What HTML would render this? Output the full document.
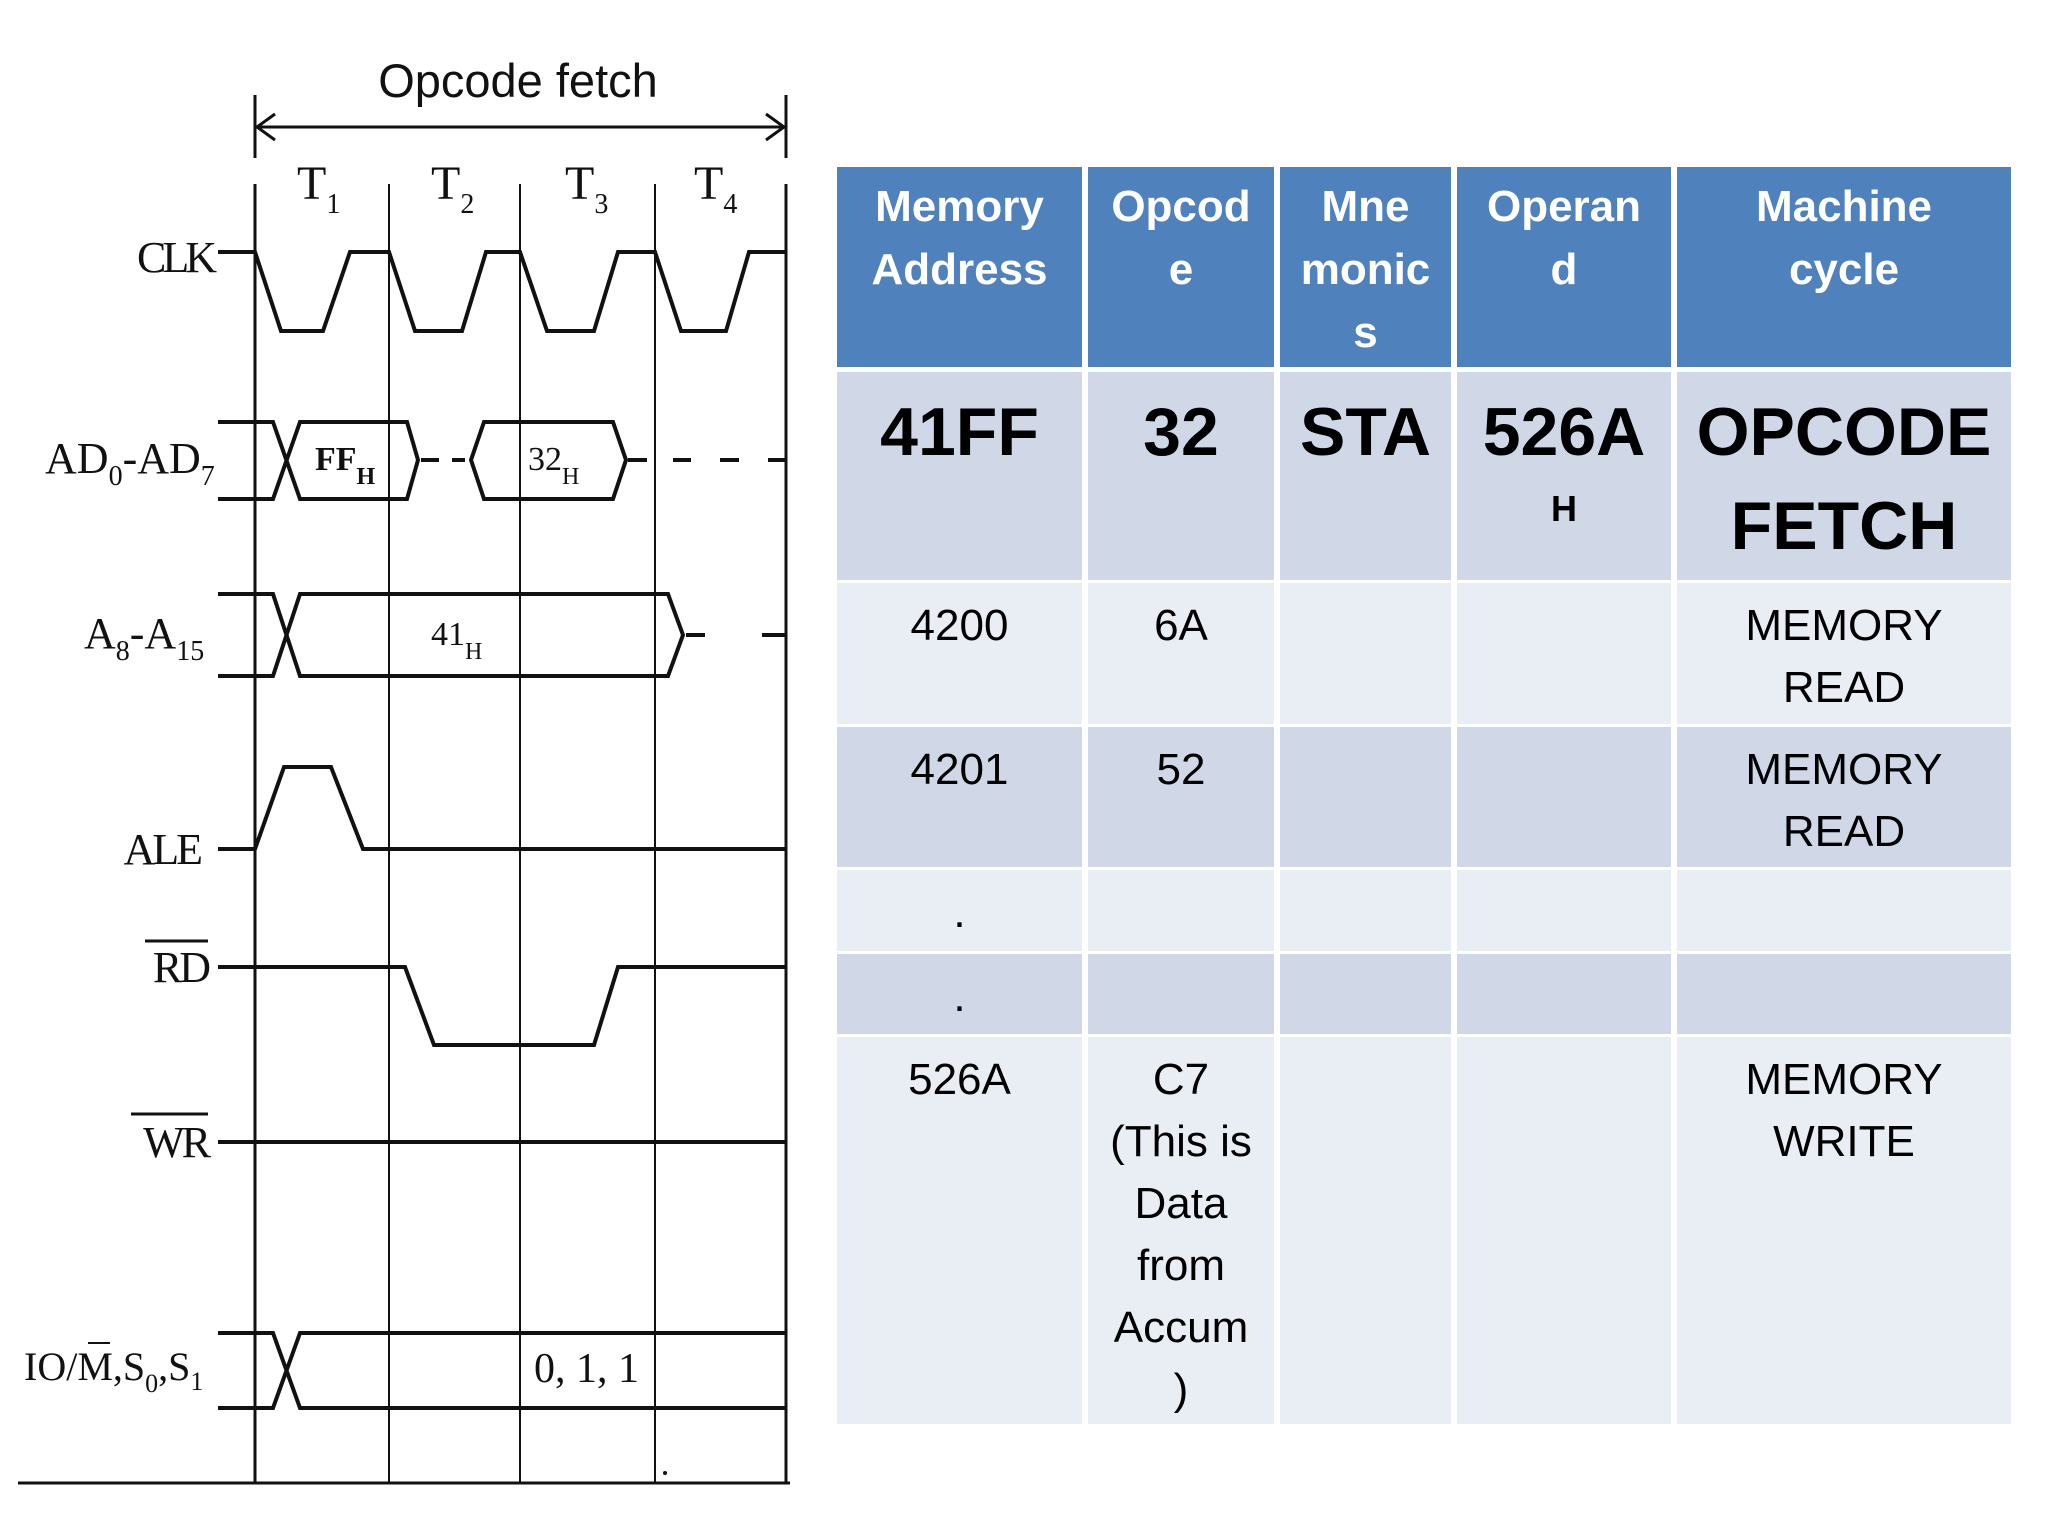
<!DOCTYPE html>
<html><head><meta charset="utf-8"><style>
html,body{margin:0;padding:0;background:#fff;}
body{width:2048px;height:1536px;position:relative;overflow:hidden;}
svg{position:absolute;left:0;top:0;}
.c{position:absolute;box-sizing:border-box;text-align:center;font-family:"Liberation Sans",sans-serif;color:#000;}
.h{background:#4f81bd;color:#fff;font-weight:bold;font-size:44px;line-height:63px;padding-top:8px;}
.d{background:#d0d8e8;}
.l{background:#e9edf4;}
.n{font-size:44px;line-height:62px;padding-top:12px;}
.b{font-weight:bold;font-size:68px;line-height:94px;padding-top:13px;}
</style></head><body>
<svg width="2048" height="1536" viewBox="0 0 2048 1536" font-family="Liberation Serif, serif" fill="none" stroke="#111">
<line x1="255" y1="95" x2="255" y2="158" stroke-width="3"/>
<line x1="786" y1="95" x2="786" y2="158" stroke-width="3"/>
<line x1="257" y1="127" x2="784" y2="127" stroke-width="3"/>
<polyline points="275,114 257,127 275,140" stroke-width="3"/>
<polyline points="766,114 784,127 766,140" stroke-width="3"/>
<text x="518" y="97" font-family="Liberation Sans, sans-serif" font-size="47" fill="#111" stroke="none" text-anchor="middle">Opcode fetch</text>
<line x1="255" y1="184" x2="255" y2="1483" stroke-width="3"/>
<line x1="389" y1="184" x2="389" y2="1483" stroke-width="2"/>
<line x1="520" y1="184" x2="520" y2="1483" stroke-width="2"/>
<line x1="655" y1="184" x2="655" y2="1483" stroke-width="2"/>
<line x1="786" y1="184" x2="786" y2="1483" stroke-width="3"/>
<line x1="18" y1="1483" x2="790" y2="1483" stroke-width="3"/>
<circle cx="665" cy="1473" r="2" fill="#111" stroke="none"/>
<g fill="#111" stroke="none" font-size="48">
<text x="297" y="199">T<tspan font-size="28" dy="14">1</tspan></text>
<text x="431" y="199">T<tspan font-size="28" dy="14">2</tspan></text>
<text x="565" y="199">T<tspan font-size="28" dy="14">3</tspan></text>
<text x="694" y="199">T<tspan font-size="28" dy="14">4</tspan></text>
<text x="213" y="272" font-size="44" text-anchor="end" letter-spacing="-4">CLK</text>
<text x="45" y="473" font-size="44">AD<tspan font-size="28" dy="12">0</tspan><tspan dy="-12">-AD</tspan><tspan font-size="28" dy="12">7</tspan></text>
<text x="84" y="648" font-size="44">A<tspan font-size="28" dy="12">8</tspan><tspan dy="-12">-A</tspan><tspan font-size="28" dy="12">15</tspan></text>
<text x="200" y="864" font-size="44" text-anchor="end" letter-spacing="-3">ALE</text>
<text x="208" y="982" font-size="44" text-anchor="end" letter-spacing="-3">RD</text>
<text x="208" y="1157" font-size="44" text-anchor="end" letter-spacing="-3">WR</text>
<text x="24" y="1380" font-size="40">IO/M,S<tspan font-size="26" dy="12">0</tspan><tspan dy="-12">,S</tspan><tspan font-size="26" dy="10">1</tspan></text>
<text x="534" y="1382" font-size="42">0, 1, 1</text>
<text x="315" y="470" font-size="34" font-weight="bold">FF<tspan font-size="24" dy="14">H</tspan></text>
<text x="528" y="470" font-size="34">32<tspan font-size="24" dy="14">H</tspan></text>
<text x="431" y="645" font-size="34">41<tspan font-size="24" dy="14">H</tspan></text>
</g>
<line x1="145" y1="941" x2="208" y2="941" stroke-width="3"/>
<line x1="131" y1="1114" x2="208" y2="1114" stroke-width="3"/>
<line x1="88" y1="1343" x2="110" y2="1343" stroke-width="2"/>
<g stroke-width="4">
<polyline points="218,252 255,252 281,331 323,331 350,252 389,252 415,331 462,331 486,252 520,252 547,331 594,331 618,252 655,252 681,331 726,331 749,252 786,252"/>
<polyline points="218,422 273,422 300,499 407,499 418,460 407,422 300,422 273,499 218,499"/>
<polygon points="471,460 484,422 613,422 626,460 613,499 484,499"/>
<line x1="421" y1="460" x2="439" y2="460"/><line x1="452" y1="460" x2="465" y2="460"/>
<line x1="628" y1="460" x2="647" y2="460"/><line x1="673" y1="460" x2="691" y2="460"/>
<line x1="720" y1="460" x2="739" y2="460"/><line x1="768" y1="460" x2="786" y2="460"/>
<polyline points="218,594 273,594 300,676 668,676 683,635 668,594 300,594 273,676 218,676"/>
<line x1="686" y1="635" x2="705" y2="635"/><line x1="762" y1="635" x2="786" y2="635"/>
<polyline points="218,849 255,849 284,767 331,767 363,849 786,849"/>
<polyline points="218,967 405,967 434,1045 594,1045 618,967 786,967"/>
<line x1="218" y1="1142" x2="786" y2="1142"/>
<polyline points="218,1333 273,1333 300,1408 786,1408"/>
<polyline points="218,1408 273,1408 300,1333 786,1333"/>
</g>
</svg>

<div class="c h" style="left:837px;top:167px;width:245px;height:200px;">Memory<br>Address</div>
<div class="c h" style="left:1088px;top:167px;width:186px;height:200px;">Opcod<br>e</div>
<div class="c h" style="left:1280px;top:167px;width:171px;height:200px;">Mne<br>monic<br>s</div>
<div class="c h" style="left:1457px;top:167px;width:214px;height:200px;">Operan<br>d</div>
<div class="c h" style="left:1677px;top:167px;width:334px;height:200px;">Machine<br>cycle</div>
<div class="c d b" style="left:837px;top:372px;width:245px;height:208px;">41FF</div>
<div class="c d b" style="left:1088px;top:372px;width:186px;height:208px;">32</div>
<div class="c d b" style="left:1280px;top:372px;width:171px;height:208px;">STA</div>
<div class="c d b" style="left:1457px;top:372px;width:214px;height:208px;">526A<br><span style="font-size:36px;line-height:60px;display:block;">H</span></div>
<div class="c d b" style="left:1677px;top:372px;width:334px;height:208px;">OPCODE<br>FETCH</div>
<div class="c l n" style="left:837px;top:583px;width:245px;height:141px;">4200</div>
<div class="c l n" style="left:1088px;top:583px;width:186px;height:141px;">6A</div>
<div class="c l n" style="left:1280px;top:583px;width:171px;height:141px;"></div>
<div class="c l n" style="left:1457px;top:583px;width:214px;height:141px;"></div>
<div class="c l n" style="left:1677px;top:583px;width:334px;height:141px;">MEMORY<br>READ</div>
<div class="c d n" style="left:837px;top:727px;width:245px;height:140px;">4201</div>
<div class="c d n" style="left:1088px;top:727px;width:186px;height:140px;">52</div>
<div class="c d n" style="left:1280px;top:727px;width:171px;height:140px;"></div>
<div class="c d n" style="left:1457px;top:727px;width:214px;height:140px;"></div>
<div class="c d n" style="left:1677px;top:727px;width:334px;height:140px;">MEMORY<br>READ</div>
<div class="c l n" style="left:837px;top:870px;width:245px;height:81px;">.</div>
<div class="c l n" style="left:1088px;top:870px;width:186px;height:81px;"></div>
<div class="c l n" style="left:1280px;top:870px;width:171px;height:81px;"></div>
<div class="c l n" style="left:1457px;top:870px;width:214px;height:81px;"></div>
<div class="c l n" style="left:1677px;top:870px;width:334px;height:81px;"></div>
<div class="c d n" style="left:837px;top:954px;width:245px;height:80px;padding-top:0;line-height:62px;"><span style="position:relative;top:12px">.</span></div>
<div class="c d n" style="left:1088px;top:954px;width:186px;height:80px;"></div>
<div class="c d n" style="left:1280px;top:954px;width:171px;height:80px;"></div>
<div class="c d n" style="left:1457px;top:954px;width:214px;height:80px;"></div>
<div class="c d n" style="left:1677px;top:954px;width:334px;height:80px;"></div>
<div class="c l n" style="left:837px;top:1037px;width:245px;height:387px;">526A</div>
<div class="c l n" style="left:1088px;top:1037px;width:186px;height:387px;">C7<br>(This is<br>Data<br>from<br>Accum<br>)</div>
<div class="c l n" style="left:1280px;top:1037px;width:171px;height:387px;"></div>
<div class="c l n" style="left:1457px;top:1037px;width:214px;height:387px;"></div>
<div class="c l n" style="left:1677px;top:1037px;width:334px;height:387px;">MEMORY<br>WRITE</div>
</body></html>
